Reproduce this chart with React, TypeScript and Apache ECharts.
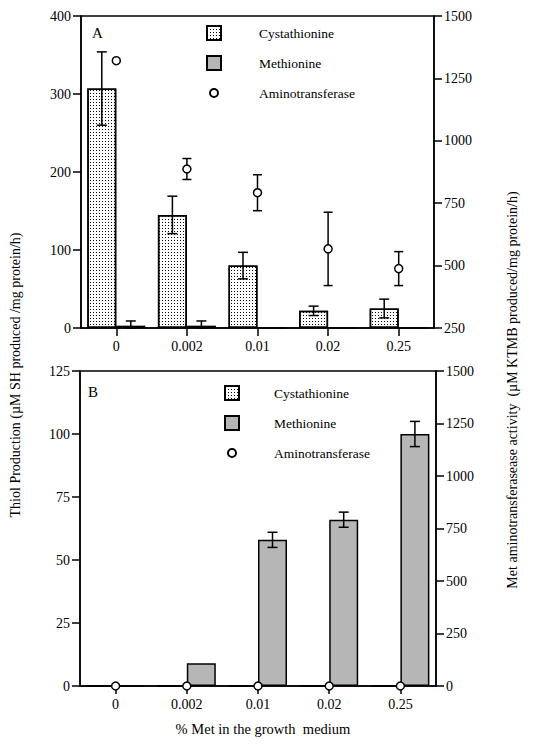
import React, { useEffect, useRef } from 'react';
import * as echarts from 'echarts';

const categories = ['0', '0.002', '0.01', '0.02', '0.25'];

// Panel A
const cystA = [307, 145, 80, 22, 25];
const cystErrA = [47, 24, 17, 6, 12];
const metA = [3, 3, 0, 0, 0];
const metErrA = [6, 6, 0, 0, 0];
const aminoA = [1321, 887, 792, 567, 488];
const aminoErrA = [0, 42, 72, 147, 68];

// Panel B
const cystB = [0, 0, 0, 0, 0];
const metB = [0, 9, 58, 66, 100];
const metErrB = [0, 0, 3, 3, 5];
const aminoB = [0, 0, 0, 0, 0];

// Axis ranges
const leftA = { min: 0, max: 400, interval: 100 };
const rightA = { min: 250, max: 1500, interval: 250 };
const leftB = { min: 0, max: 125, interval: 25 };
const rightB = { min: 0, max: 1500, interval: 250 };

const seriesNames = ['Cystathionine', 'Methionine', 'Aminotransferase'];

const FONT = 'Liberation Serif';
const BAR_W = 29;

const cystDecal = {
  symbol: 'rect',
  symbolSize: 1,
  color: '#000',
  dashArrayX: [1, 2],
  dashArrayY: [1, 2],
  rotation: 0,
};

function errorSeries(
  xAxisIndex: number,
  yAxisIndex: number,
  values: number[],
  errs: number[],
  offset: number,
  cap: number,
) {
  const data = values
    .map((v, i) => [i, Math.max(0, v - errs[i]), v + errs[i]])
    .filter((_, i) => errs[i] > 0);
  return {
    type: 'custom',
    xAxisIndex,
    yAxisIndex,
    silent: true,
    z: 4,
    clip: false,
    encode: { x: 0, y: [1, 2] },
    data,
    renderItem: (_params: any, api: any) => {
      const hi = api.coord([api.value(0), api.value(2)]);
      const lo = api.coord([api.value(0), api.value(1)]);
      const cx = hi[0] + offset;
      const st = { stroke: '#000', lineWidth: 1.5 };
      return {
        type: 'group',
        children: [
          { type: 'line', shape: { x1: cx, y1: hi[1], x2: cx, y2: lo[1] }, style: st },
          { type: 'line', shape: { x1: cx - cap, y1: hi[1], x2: cx + cap, y2: hi[1] }, style: st },
          { type: 'line', shape: { x1: cx - cap, y1: lo[1], x2: cx + cap, y2: lo[1] }, style: st },
        ],
      };
    },
  };
}

function xAxis(gridIndex: number) {
  return {
    type: 'category',
    gridIndex,
    data: categories,
    axisLine: { show: true, lineStyle: { color: '#000', width: 1.5 } },
    axisTick: { show: true, alignWithLabel: true, length: 8, lineStyle: { color: '#000', width: 1.5 } },
    axisLabel: { color: '#000', fontFamily: FONT, fontSize: 14, margin: 11 },
    splitLine: { show: false },
  };
}

function yAxis(gridIndex: number, r: { min: number; max: number; interval: number }, position: string) {
  return {
    type: 'value',
    gridIndex,
    position,
    min: r.min,
    max: r.max,
    interval: r.interval,
    axisLine: { show: true, lineStyle: { color: '#000', width: 1.5 } },
    axisTick: { show: true, length: 8, lineStyle: { color: '#000', width: 1.5 } },
    axisLabel: {
      color: '#000', fontFamily: FONT, fontSize: 14, margin: 10,
      formatter: (v: number) => String(v),
    },
    splitLine: { show: false },
  };
}

const circleIcon = 'path://M0,0M14,14M11,7A4,4,0,1,1,3,7A4,4,0,1,1,11,7Z';

function legend(left: number, top: number, pad: number) {
  return {
    orient: 'vertical',
    left,
    top,
    padding: 0,
    itemWidth: 14,
    itemHeight: 14,
    itemGap: 14,
    selectedMode: false,
    textStyle: { color: '#000', fontFamily: FONT, fontSize: 13.5, lineHeight: 16, padding: [0, 0, 0, pad] },
    data: [
      { name: seriesNames[0], icon: 'rect' },
      { name: seriesNames[1], icon: 'rect' },
      { name: seriesNames[2], icon: circleIcon },
    ],
  };
}

export default function App() {
  const ref = useRef<HTMLDivElement>(null);

  useEffect(() => {
    if (!ref.current) return;
    const chart = echarts.init(ref.current, undefined, { renderer: 'svg' });
    const barBase = { borderColor: '#000', borderWidth: 1.5 };
    const option: any = {
      animation: false,
      backgroundColor: '#fff',
      textStyle: { fontFamily: FONT, color: '#000' },
      grid: [
        { left: 81, top: 16, width: 353, height: 312, show: true, borderColor: '#000', borderWidth: 1.5, backgroundColor: 'transparent' },
        { left: 80, top: 371, width: 356, height: 315, show: true, borderColor: '#000', borderWidth: 1.5, backgroundColor: 'transparent' },
      ],
      legend: [legend(206, 25, 33), legend(224, 385, 30)],
      xAxis: [xAxis(0), xAxis(1)],
      yAxis: [
        yAxis(0, leftA, 'left'),
        yAxis(0, rightA, 'right'),
        yAxis(1, leftB, 'left'),
        yAxis(1, rightB, 'right'),
      ],
      series: [
        {
          name: seriesNames[0], type: 'bar', xAxisIndex: 0, yAxisIndex: 0, data: cystA,
          barWidth: BAR_W, barGap: '0%', itemStyle: { ...barBase, color: '#fff', decal: cystDecal },
        },
        {
          name: seriesNames[1], type: 'bar', xAxisIndex: 0, yAxisIndex: 0, data: metA,
          barWidth: BAR_W, barGap: '0%', itemStyle: { ...barBase, color: '#b6b6b6' },
        },
        errorSeries(0, 0, cystA, cystErrA, -BAR_W / 2, 5),
        errorSeries(0, 0, metA, metErrA, BAR_W / 2, 5),
        errorSeries(0, 1, aminoA, aminoErrA, 0, 4.5),
        {
          name: seriesNames[2], type: 'scatter', xAxisIndex: 0, yAxisIndex: 1, data: aminoA,
          symbol: 'circle', symbolSize: 8, z: 6, clip: false,
          itemStyle: { color: '#fff', borderColor: '#000', borderWidth: 1.5, opacity: 1 },
        },
        {
          name: seriesNames[0], type: 'bar', xAxisIndex: 1, yAxisIndex: 2, data: cystB,
          barWidth: BAR_W, barGap: '0%', itemStyle: { ...barBase, color: '#fff', decal: cystDecal },
        },
        {
          name: seriesNames[1], type: 'bar', xAxisIndex: 1, yAxisIndex: 2, data: metB,
          barWidth: BAR_W, barGap: '0%', itemStyle: { ...barBase, color: '#b6b6b6' },
        },
        errorSeries(1, 2, metB, metErrB, BAR_W / 2, 5),
        {
          name: seriesNames[2], type: 'scatter', xAxisIndex: 1, yAxisIndex: 3, data: aminoB,
          symbol: 'circle', symbolSize: 8, z: 6, clip: false,
          itemStyle: { color: '#fff', borderColor: '#000', borderWidth: 1.5, opacity: 1 },
        },
      ],
      graphic: [
        { type: 'text', x: 92, y: 33, style: { text: 'A', fontFamily: FONT, fontSize: 15, fill: '#000', textVerticalAlign: 'middle' } },
        { type: 'text', x: 88, y: 392, style: { text: 'B', fontFamily: FONT, fontSize: 15, fill: '#000', textVerticalAlign: 'middle' } },
        {
          type: 'text', x: 15, y: 375, rotation: Math.PI / 2,
          style: { text: 'Thiol Production (µM SH produced /mg protein/h)', fontFamily: FONT, fontSize: 14, fill: '#000', textAlign: 'center', textVerticalAlign: 'middle' },
        },
        {
          type: 'text', x: 512, y: 390, rotation: Math.PI / 2,
          style: { text: 'Met aminotransferasease activity  (µM KTMB produced/mg protein/h)', fontFamily: FONT, fontSize: 14, fill: '#000', textAlign: 'center', textVerticalAlign: 'middle' },
        },
        {
          type: 'text', x: 263, y: 729,
          style: { text: '% Met in the growth  medium', fontFamily: FONT, fontSize: 14.5, fill: '#000', textAlign: 'center', textVerticalAlign: 'middle' },
        },
      ],
    };
    chart.setOption(option);
    return () => chart.dispose();
  }, []);

  return <div ref={ref} style={{ width: 537, height: 745, position: 'absolute', left: 0, top: 0 }} />;
}
